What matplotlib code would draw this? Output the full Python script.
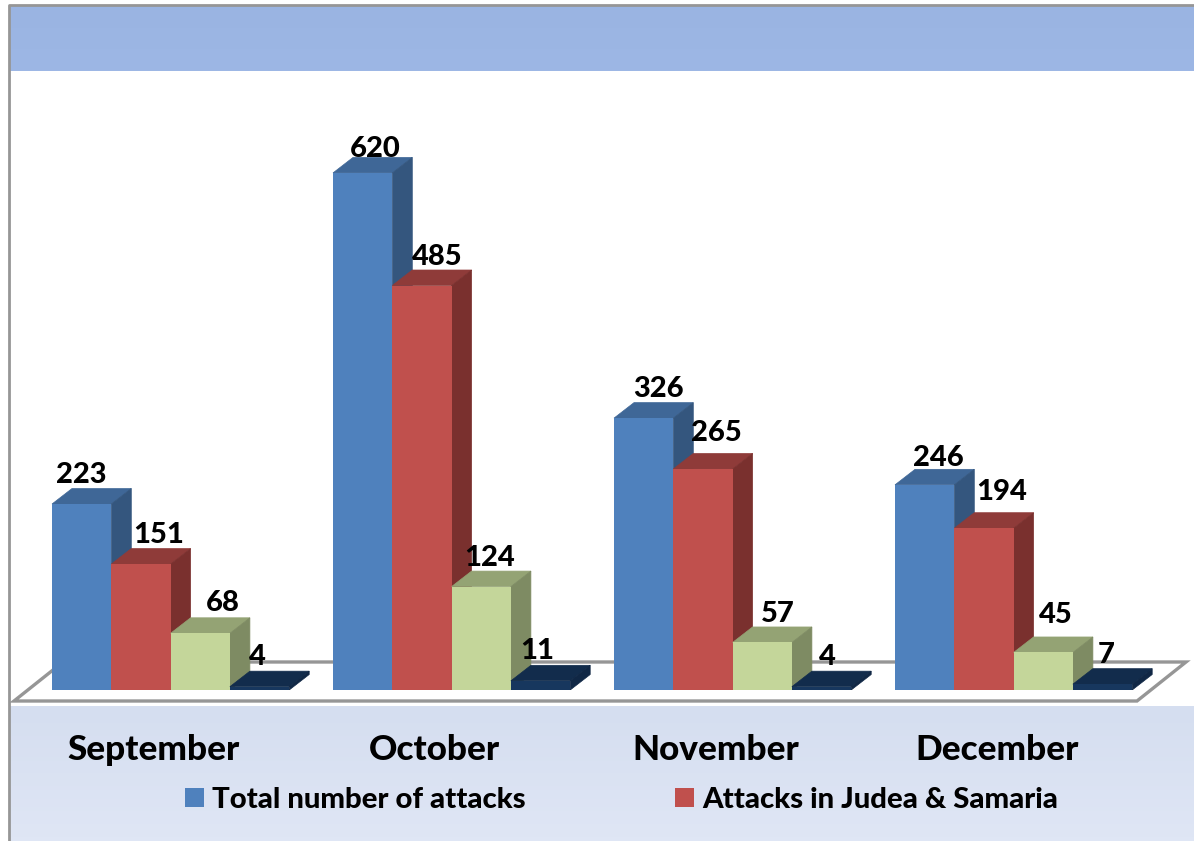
import numpy as np
import matplotlib
matplotlib.use('Agg')
import matplotlib.pyplot as plt
from matplotlib.colors import LinearSegmentedColormap
from matplotlib.patches import Polygon

plt.rcParams['font.family'] = ['Lato', 'DejaVu Sans']

months = ['September', 'October', 'November', 'December']
total_attacks = [223, 620, 326, 246]
judea_samaria = [151, 485, 265, 194]
third_series = [68, 124, 57, 45]
fourth_series = [4, 11, 4, 7]

W, H = 1194, 841
BASE_PX = 690        # baseline of the bars
PX_PER_UNIT = 0.834  # vertical scale
GROUP_PX = 281       # distance between groups
BAR_PX = 59.3
DEPTH_X, DEPTH_Y = 20, 15.5
WEIGHT = 900

fig = plt.figure(figsize=(W / 100, H / 100), dpi=100, facecolor='white')

# fond (bandes, cadre, sol) en coordonnees pixels
bg = fig.add_axes([0, 0, 1, 1], zorder=0)
bg.axis('off')
grad = np.linspace(0, 1, 32).reshape(-1, 1)
bg.imshow(grad, extent=[9, W, 71, 6], aspect='auto',
          cmap=LinearSegmentedColormap.from_list('t', ['#9AB4E2', '#9DB7E5']))
bg.imshow(grad, extent=[9, W, H, 706], aspect='auto',
          cmap=LinearSegmentedColormap.from_list('b', ['#D5DEF0', '#DFE6F5']))
bg.set_xlim(0, W)
bg.set_ylim(H, 0)
bg.plot([8.5, 8.5, W], [H, 5, 5], color='#969696', lw=2)
bg.add_patch(Polygon([(14, 701), (1137, 701), (1186, 662), (63, 662)], closed=True,
                     facecolor='white', edgecolor='#969696', lw=2.4))

# axe principal : origine sur la ligne de base
ax = fig.add_axes([0, (H - BASE_PX) / H, 1, BASE_PX / H], zorder=1)
ax.patch.set_alpha(0)
center_px = 52 + 2 * BAR_PX
ax.set_xlim(-center_px / GROUP_PX, (W - center_px) / GROUP_PX)
ax.set_ylim(0, BASE_PX / PX_PER_UNIT)
for s in ax.spines.values():
    s.set_visible(False)
ax.set_yticks([])

x = np.arange(len(months))
width = BAR_PX / GROUP_PX
dx = DEPTH_X / GROUP_PX
dy = DEPTH_Y / PX_PER_UNIT

series = [total_attacks, judea_samaria, third_series, fourth_series]
front_colors = ['#4F81BD', '#C0504D', '#C4D69A', '#17375E']
top_colors = ['#3F6797', '#8F3B39', '#94A374', '#122C4C']
side_colors = ['#34567E', '#7A302E', '#7E8B63', '#102745']

# decalage de chaque etiquette par rapport au coin du bar (pixels)
label_dx = [[29, 42, 45, 43], [47, 45, 43, 47.5], [52, 38, 45, 42], [28, 26, 36, 33]]
label_dy = [[29, 24, 29, 27], [29, 29, 36, 36], [30, 29, 28, 37], [30, 30, 30, 29]]

handles = []
for i, values in enumerate(series):
    left = x + (i - 2) * width
    z = 3 + i
    bars = ax.bar(left, values, width, align='edge', color=front_colors[i], zorder=z + 0.5)
    handles.append(bars)
    for j, (l, v) in enumerate(zip(left, values)):
        ax.add_patch(Polygon([(l, v), (l + width, v), (l + width + dx, v + dy), (l + dx, v + dy)],
                             closed=True, facecolor=top_colors[i], edgecolor=top_colors[i], lw=0.5, zorder=z))
        ax.add_patch(Polygon([(l + width, 0), (l + width + dx, dy), (l + width + dx, v + dy), (l + width, v)],
                             closed=True, facecolor=side_colors[i], edgecolor=side_colors[i], lw=0.5, zorder=z))
        ax.annotate(str(v), xy=(l, v), xytext=(label_dx[i][j], label_dy[i][j]),
                    textcoords='offset pixels', ha='center', va='center',
                    fontsize=21, fontweight=WEIGHT, color='black', zorder=20)

# etiquettes des mois
ax.set_xticks(x - 17 / GROUP_PX)
ax.set_xticklabels(months, fontsize=25.3, fontweight=WEIGHT, color='black')
ax.tick_params(axis='x', length=0, pad=31.5)

fig.legend(handles[:2], ['Total number of attacks', 'Attacks in Judea & Samaria'],
           loc='center', bbox_to_anchor=(621.5 / W, 1 - 800 / H), ncol=2, frameon=False,
           handlelength=0.65, handleheight=0.65, handletextpad=0.27, columnspacing=5.05,
           borderpad=0, labelcolor='black', prop={'size': 21.2, 'weight': WEIGHT})

fig.savefig('out.png', dpi=100)
